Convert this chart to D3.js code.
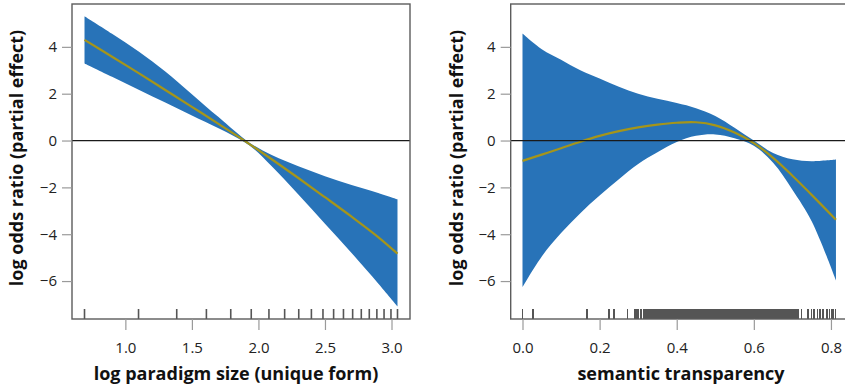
<!DOCTYPE html>
<html><head><meta charset="utf-8">
<script src="https://cdn.jsdelivr.net/npm/d3@7"></script>
<style>
html,body{margin:0;padding:0;background:#fff;}
svg{display:block;font-family:"Open Sans","Noto Sans",sans-serif;}
</style></head>
<body>
<svg id="chart" width="845" height="387"></svg>
<script>
// ---- Left panel data: log paradigm size ----
const leftX      = [0.693, 0.9, 1.1, 1.3, 1.5, 1.7, 1.93, 2.1, 2.3, 2.5, 2.7, 2.9, 3.045];
const leftFit    = [4.30, 3.58, 2.88, 2.16, 1.44, 0.71, -0.14, -0.80, -1.60, -2.42, -3.25, -4.12, -4.83];
const leftUpper  = [5.31, 4.56, 3.80, 2.95, 1.98, 1.00, -0.08, -0.62, -1.10, -1.52, -1.90, -2.24, -2.51];
const leftLower  = [3.29, 2.72, 2.17, 1.62, 1.07, 0.52, -0.20, -1.10, -2.30, -3.55, -4.80, -6.10, -7.08];
const leftRug    = [0.693,1.099,1.386,1.609,1.792,1.946,2.079,2.197,2.303,2.398,2.485,2.565,2.639,2.708,2.773,2.833,2.890,2.944,2.996,3.045];
const leftXTicks = [1.0, 1.5, 2.0, 2.5, 3.0];
const leftXLabels = ["1.0","1.5","2.0","2.5","3.0"];

// ---- Right panel data: semantic transparency ----
const rightX     = [0.0, 0.05, 0.1, 0.15, 0.2, 0.25, 0.3, 0.35, 0.4, 0.45, 0.5, 0.55, 0.6, 0.65, 0.7, 0.75, 0.813];
const rightFit   = [-0.87, -0.60, -0.33, -0.05, 0.20, 0.40, 0.56, 0.68, 0.76, 0.78, 0.65, 0.34, -0.11, -0.74, -1.50, -2.32, -3.38];
const rightUpper = [4.57, 3.90, 3.45, 3.00, 2.65, 2.30, 2.00, 1.78, 1.60, 1.38, 1.05, 0.55, 0.00, -0.53, -0.80, -0.88, -0.81];
const rightLower = [-6.26, -4.95, -3.95, -3.10, -2.35, -1.65, -1.00, -0.50, -0.06, 0.20, 0.26, 0.10, -0.22, -0.95, -2.10, -3.45, -5.97];
const rightRug = [0.0,0.028,0.168,0.224,0.237,0.272,
 0.292,0.297,0.301,0.306,0.309,0.314,0.318,0.321,0.326,0.329,0.333,0.337,0.341,0.344,0.348,0.352,0.355,0.358,0.362,0.366,0.369,0.372,0.375,0.378,0.381,0.384,0.387,0.390,
 0.391,0.393,0.396,0.398,0.401,0.403,0.406,0.408,0.411,0.413,0.416,0.418,0.421,0.423,0.426,0.428,0.431,0.433,0.436,0.438,0.441,0.443,0.446,0.448,0.451,0.453,0.456,0.458,0.461,0.463,0.466,0.468,0.471,0.473,0.476,0.478,0.481,0.483,0.486,0.488,0.491,0.493,0.496,0.498,0.501,0.503,0.506,0.508,0.511,0.513,0.516,0.518,0.521,0.523,0.526,0.528,0.531,0.533,0.536,0.538,0.541,0.543,0.546,0.548,0.551,0.553,0.556,0.558,0.561,0.563,0.566,0.568,0.571,0.573,0.576,0.578,0.581,0.583,0.586,0.588,0.591,0.593,0.596,0.598,0.601,0.603,0.606,0.608,0.611,0.613,0.616,0.618,0.621,0.623,0.626,0.628,0.631,0.633,0.636,0.638,0.641,0.643,0.646,0.648,0.651,0.653,0.656,0.658,0.661,0.663,0.666,0.668,0.671,0.673,0.676,0.678,0.681,0.683,0.686,0.688,0.691,0.693,0.696,0.698,0.701,0.703,0.706,0.708,0.711,0.714,
 0.724,0.741,0.750,0.756,0.765,0.772,0.780,0.789,0.796,0.802,0.806,0.812];
const rightXTicks = [0.0, 0.2, 0.4, 0.6, 0.8];
const rightXLabels = ["0.0","0.2","0.4","0.6","0.8"];

// ---- shared ----
const yTicks = [-6, -4, -2, 0, 2, 4];
const yTickLabels = ["\u22126", "\u22124", "\u22122", "0", "2", "4"];
const yTitle = "log odds ratio (partial effect)";
const leftTitle = "log paradigm size (unique form)";
const rightTitle = "semantic transparency";

const BAND = "#2873b8", FIT = "#a5951a", BOX = "#5c5c5c", TICK = "#9a9a9a";
const svg = d3.select("#chart");

function panel(cfg) {
  const x = d3.scaleLinear().domain(cfg.xDomain).range(cfg.xRange);
  const y = d3.scaleLinear().domain([-7.62, 5.83]).range([319, 4]);
  const g = svg.append("g");
  const clipId = "clip" + cfg.id;
  svg.append("clipPath").attr("id", clipId).append("rect")
    .attr("x", cfg.xRange[0]).attr("y", 4).attr("width", cfg.xRange[1]-cfg.xRange[0]).attr("height", 315);
  const pg = g.append("g").attr("clip-path", `url(#${clipId})`);
  const pts = cfg.xs.map((v,i)=>({x:v, f:cfg.fit[i], u:cfg.up[i], l:cfg.lo[i]}));
  const curve = d3.curveCatmullRom.alpha(0.5);
  pg.append("path").datum(pts)
    .attr("d", d3.area().x(d=>x(d.x)).y0(d=>y(d.l)).y1(d=>y(d.u)).curve(curve))
    .attr("fill", BAND);
  pg.append("path").datum(pts)
    .attr("d", d3.line().x(d=>x(d.x)).y(d=>y(d.f)).curve(curve))
    .attr("fill","none").attr("stroke", FIT).attr("stroke-width", 2.2);
  // zero line
  pg.append("line").attr("x1", cfg.xRange[0]).attr("x2", cfg.xRange[1])
    .attr("y1", y(0)).attr("y2", y(0)).attr("stroke", "#1a1a1a").attr("stroke-width", 1.2);
  // rug
  pg.selectAll("line.rug").data(cfg.rug).join("line").attr("class","rug")
    .attr("x1", d=>x(d)).attr("x2", d=>x(d)).attr("y1", 309).attr("y2", 319)
    .attr("stroke", "#555").attr("stroke-width", cfg.rugW)
    .attr("shape-rendering", cfg.crisp ? "crispEdges" : "auto");
  // box
  g.append("rect").attr("x", cfg.xRange[0]).attr("y", 4)
    .attr("width", cfg.xRange[1]-cfg.xRange[0]).attr("height", 315)
    .attr("fill","none").attr("stroke", BOX).attr("stroke-width", 1.4);
  // y axis
  const ya = g.append("g").attr("transform", `translate(${cfg.xRange[0]},0)`)
    .call(d3.axisLeft(y).tickValues(yTicks).tickFormat((d,i)=>yTickLabels[i]).tickSize(10).tickPadding(5));
  ya.select(".domain").remove();
  ya.selectAll(".tick line").attr("stroke", TICK).attr("stroke-width", 1.2);
  ya.selectAll(".tick text").attr("font-size", 15).attr("fill", "#222")
    .attr("font-family", '"Open Sans",sans-serif');
  // x axis
  const xa = g.append("g").attr("transform", `translate(0,319)`)
    .call(d3.axisBottom(x).tickValues(cfg.xTicks).tickFormat((d,i)=>cfg.xLabels[i]).tickSize(11).tickPadding(12));
  xa.select(".domain").remove();
  xa.selectAll(".tick line").attr("stroke", TICK).attr("stroke-width", 1.2);
  xa.selectAll(".tick text").attr("font-size", 15).attr("fill", "#222")
    .attr("font-family", '"Open Sans",sans-serif');
  // titles
  g.append("text").attr("transform", `translate(${cfg.yTitleX},158) rotate(-90)`)
    .attr("text-anchor","middle").attr("font-size", 18).attr("font-weight", "bold")
    .attr("fill","#111").text(yTitle);
  g.append("text").attr("x", cfg.xTitleX).attr("y", 380)
    .attr("text-anchor","middle").attr("font-size", 18).attr("font-weight", "bold")
    .attr("fill","#111").text(cfg.title);
}

panel({id:"L", xDomain:[0.599, 3.139], xRange:[72, 410], xs:leftX, fit:leftFit, up:leftUpper, lo:leftLower,
  rug:leftRug, rugW:1.6, crisp:false, xTicks:leftXTicks, xLabels:leftXLabels, yTitleX:23, xTitleX:236, title:leftTitle});
panel({id:"R", xDomain:[-0.0306, 0.8476], xRange:[510.7, 849.3], xs:rightX, fit:rightFit, up:rightUpper, lo:rightLower,
  rug:rightRug, rugW:1.6, crisp:true, xTicks:rightXTicks, xLabels:rightXLabels, yTitleX:463, xTitleX:681, title:rightTitle});
</script>
</body></html>
